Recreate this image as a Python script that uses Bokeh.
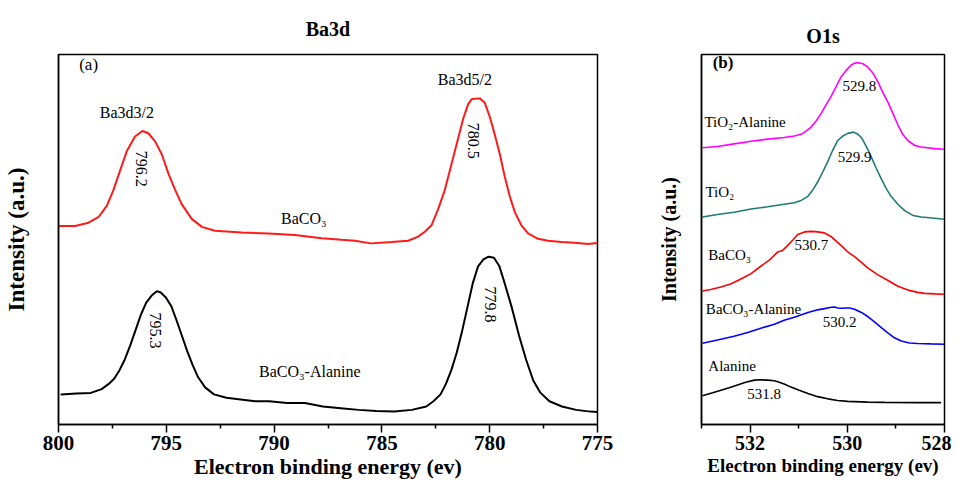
import math
from bokeh.plotting import figure
from bokeh.models import FixedTicker, Range1d
from bokeh.layouts import row
from bokeh.core.properties import value
from bokeh.embed import file_html
from bokeh.resources import INLINE

FONT = "Liberation Serif"

# ---------------- Panel (a): Ba3d (binding energy in eV, intensity in a.u.) ----------------
ba_energy_baco3 = [800.0, 799.23, 798.61, 798.15, 797.76, 797.45, 797.14, 796.83, 796.45, 796.11,
                   795.83, 795.52, 795.21, 794.90, 794.59, 794.28, 793.82, 793.35, 792.74, 791.50,
                   790.27, 789.03, 787.79, 786.87, 786.25, 785.51, 784.55, 783.78, 783.32, 783.01,
                   782.70, 782.39, 782.08, 781.77, 781.46, 781.23, 781.00, 780.84, 780.69, 780.46,
                   780.23, 779.99, 779.76, 779.53, 779.30, 779.07, 778.83, 778.53, 778.22, 777.76,
                   777.29, 776.67, 776.06, 775.44, 775.0]
ba_int_baco3 = [216.0, 216.0, 219.3, 225.0, 236.7, 253.3, 273.3, 293.3, 308.3, 314.0,
                311.7, 303.3, 290.0, 270.0, 253.3, 238.3, 223.3, 215.0, 211.0, 209.3,
                208.3, 206.7, 203.3, 201.7, 200.7, 198.0, 199.3, 200.7, 205.0, 210.0,
                216.7, 233.3, 253.3, 280.0, 306.7, 326.7, 341.7, 346.7, 347.3, 347.7,
                343.3, 328.3, 310.0, 290.0, 266.7, 246.7, 230.0, 216.7, 208.3, 202.7,
                200.7, 199.3, 198.7, 197.3, 198.3]

ba_energy_ala = [799.90, 799.16, 798.50, 798.00, 797.67, 797.42, 797.17, 796.93, 796.68, 796.43,
                 796.18, 795.93, 795.69, 795.44, 795.27, 795.02, 794.77, 794.53, 794.28, 794.03,
                 793.78, 793.53, 793.20, 792.79, 792.21, 791.55, 790.88, 790.22, 789.40, 788.57,
                 787.74, 786.91, 786.08, 785.26, 784.43, 783.61, 782.94, 782.61, 782.28, 782.03,
                 781.78, 781.53, 781.29, 781.04, 780.79, 780.54, 780.29, 780.05, 779.80, 779.55,
                 779.30, 778.97, 778.64, 778.31, 777.98, 777.65, 777.23, 776.65, 775.99, 775.33,
                 775.0]
ba_int_ala = [42.1, 42.9, 43.6, 47.5, 52.9, 58.2, 67.1, 77.9, 92.1, 108.2,
              124.3, 136.8, 143.9, 148.6, 147.5, 142.1, 133.2, 118.9, 102.9, 86.8,
              72.5, 60.0, 49.3, 42.1, 38.6, 36.8, 35.0, 35.0, 33.2, 33.2,
              29.6, 27.9, 26.1, 25.0, 24.3, 26.1, 29.6, 35.0, 42.1, 52.9,
              67.1, 85.0, 106.4, 131.4, 156.4, 174.3, 181.4, 184.3, 183.2, 174.3,
              156.4, 131.4, 102.9, 77.9, 56.4, 43.9, 35.0, 29.6, 26.1, 24.3,
              24.0]

ba_ticks = [800, 795, 790, 785, 780, 775]
ba_minor = [797.5, 792.5, 787.5, 782.5, 777.5]

# ---------------- Panel (b): O1s ----------------
o_energy_tiala = [532.98, 532.67, 532.33, 531.98, 531.64, 531.30, 531.09, 530.95, 530.85, 530.75,
                  530.64, 530.54, 530.44, 530.33, 530.23, 530.13, 530.02, 529.92, 529.84, 529.77,
                  529.68, 529.58, 529.47, 529.37, 529.27, 529.16, 529.06, 528.96, 528.86, 528.75,
                  528.61, 528.48, 528.20, 528.0]
o_int_tiala = [306.0, 307.3, 310.0, 312.7, 315.0, 316.7, 318.3, 320.0, 323.3, 327.3,
               334.0, 341.7, 350.7, 360.0, 370.0, 380.0, 387.3, 392.7, 394.7, 395.0,
               394.0, 390.7, 384.0, 375.0, 364.0, 353.3, 341.7, 330.0, 320.0, 313.3,
               308.3, 306.7, 305.0, 304.3]

o_energy_tio2 = [532.98, 532.67, 532.33, 531.98, 531.64, 531.30, 531.09, 530.95, 530.81, 530.71,
                 530.61, 530.51, 530.40, 530.30, 530.20, 530.09, 529.99, 529.87, 529.80, 529.71,
                 529.61, 529.51, 529.41, 529.30, 529.20, 529.10, 528.96, 528.82, 528.65, 528.48,
                 528.20, 528.0]
o_int_tio2 = [233.3, 236.0, 238.3, 241.7, 244.0, 246.7, 248.3, 250.7, 255.0, 261.7,
              270.0, 280.0, 291.7, 303.3, 313.3, 318.3, 321.0, 322.3, 320.7, 316.7,
              307.3, 296.7, 285.0, 273.3, 263.3, 255.0, 246.7, 240.0, 235.0, 233.3,
              232.0, 231.0]

o_energy_baco3 = [532.98, 532.81, 532.60, 532.39, 532.19, 531.98, 531.78, 531.60, 531.43, 531.33,
                  531.23, 531.12, 531.02, 530.88, 530.75, 530.61, 530.47, 530.33, 530.20, 530.09,
                  529.99, 529.85, 529.71, 529.58, 529.37, 529.16, 528.96, 528.75, 528.55, 528.41,
                  528.20, 528.0]
o_int_baco3 = [155.7, 157.3, 160.0, 163.3, 168.3, 174.0, 181.7, 188.3, 196.7, 198.3,
               203.3, 209.3, 215.0, 217.7, 218.3, 217.7, 216.7, 212.7, 206.7, 201.7,
               196.7, 191.7, 185.7, 180.0, 172.7, 166.7, 160.7, 156.7, 154.3, 153.3,
               152.7, 152.3]

o_energy_baala = [532.98, 532.67, 532.33, 532.05, 531.78, 531.50, 531.30, 531.09, 530.81, 530.61,
                  530.47, 530.33, 530.26, 530.20, 530.13, 530.02, 529.95, 529.85, 529.71, 529.58,
                  529.44, 529.30, 529.16, 529.03, 528.89, 528.72, 528.55, 528.27, 528.0]
o_int_baala = [101.0, 104.3, 108.3, 112.3, 116.7, 121.0, 125.0, 128.3, 133.3, 136.0,
               137.3, 138.7, 139.0, 138.0, 137.7, 138.0, 138.0, 136.7, 133.3, 129.0,
               123.3, 117.3, 111.7, 106.7, 103.3, 101.3, 100.7, 100.3, 100.0]

o_energy_ala = [532.98, 532.77, 532.60, 532.43, 532.26, 532.09, 531.91, 531.78, 531.64, 531.50,
                531.43, 531.30, 531.16, 530.99, 530.81, 530.61, 530.40, 530.20, 529.99, 529.58,
                529.23, 528.55, 528.07]
o_int_ala = [46.0, 49.0, 51.7, 54.3, 57.3, 60.0, 62.3, 62.7, 62.3, 61.7,
             60.7, 58.3, 55.0, 51.7, 48.3, 45.0, 42.7, 41.0, 40.0, 39.3,
             39.0, 38.7, 38.7]

o_ticks = [532, 530, 528]
o_minor = [533, 531, 529]


def style(p, tick_size, label_size, ylabel_size, tick_standoff, label_standoff, ylabel_standoff):
    p.grid.visible = False
    p.outline_line_color = "black"
    p.outline_line_width = 1.5
    p.background_fill_color = "white"
    p.border_fill_color = "white"
    ax = p.xaxis[0]
    ax.axis_line_width = 1.5
    ax.major_tick_line_width = 1.5
    ax.minor_tick_line_width = 1.5
    ax.major_tick_out = 8
    ax.major_tick_in = 0
    ax.minor_tick_out = 4
    ax.minor_tick_in = 0
    ax.major_label_text_font = FONT
    ax.major_label_text_font_style = "bold"
    ax.major_label_text_font_size = tick_size
    ax.major_label_text_color = "black"
    ax.major_label_standoff = tick_standoff
    ax.axis_label_text_font = FONT
    ax.axis_label_text_font_style = "bold"
    ax.axis_label_text_font_size = label_size
    ax.axis_label_text_color = "black"
    ax.axis_label_standoff = label_standoff
    ya = p.yaxis[0]
    ya.ticker = FixedTicker(ticks=[])
    ya.axis_line_width = 1.5
    ya.major_tick_out = 0
    ya.minor_tick_out = 0
    ya.major_label_standoff = 0
    ya.axis_label_text_font = FONT
    ya.axis_label_text_font_style = "bold"
    ya.axis_label_text_font_size = ylabel_size
    ya.axis_label_text_color = "black"
    ya.axis_label_standoff = ylabel_standoff
    p.title.text_font = FONT
    p.title.text_font_style = "bold"
    p.title.text_font_size = "20px"
    p.title.align = "center"
    p.title.text_color = "black"


tf = value(FONT)

# ---- figure a ----  frame: page x 63..605, y 62..444
p1 = figure(width=645, height=481, output_backend="svg", toolbar_location=None,
            x_range=Range1d(800, 775), y_range=Range1d(11, 393),
            title="Ba3d", x_axis_label="Electron binding energy (ev)",
            y_axis_label="Intensity (a.u.)",
            min_border_left=55, min_border_right=48, min_border_top=54, min_border_bottom=45)
p1.xaxis.ticker = FixedTicker(ticks=ba_ticks, minor_ticks=ba_minor)
style(p1, "21px", "22px", "23px", 3, 1, 30)
p1.title.standoff = 29

p1.line(ba_energy_baco3, ba_int_baco3, line_color="#ff1a1a", line_width=2)
p1.line(ba_energy_ala, ba_int_ala, line_color="black", line_width=2)

p1.text(x=[799.04], y=[383], text=["(a)"], text_font=tf, text_font_size="17px",
        text_align="left", text_baseline="middle")
p1.text(x=[796.83, 781.15], y=[333.3, 366.7], text=["Ba3d3/2", "Ba3d5/2"], text_font=tf,
        text_font_size="16px", text_align="center", text_baseline="middle")
p1.text(x=[796.17, 780.77, 795.48, 779.97], y=[275, 304, 108, 135],
        text=["796.2", "780.5", "795.3", "779.8"], angle=-math.pi / 2,
        text_font=tf, text_font_size="16px", text_align="center", text_baseline="middle")
p1.text(x=[789.68, 790.70], y=[224, 66], text=["BaCO₃", "BaCO₃-Alanine"], text_font=tf,
        text_font_size="16px", text_align="left", text_baseline="middle")

# ---- figure b ----  frame: page x 709..952, y 40..443
p2 = figure(width=306, height=481, output_backend="svg", toolbar_location=None,
            x_range=Range1d(533, 528), y_range=Range1d(15.8, 403.7),
            title="O1s", x_axis_label="Electron binding energy (ev)",
            y_axis_label="Intensity (a.u.)",
            min_border_left=56, min_border_right=7, min_border_top=32, min_border_bottom=46)
p2.xaxis.ticker = FixedTicker(ticks=o_ticks, minor_ticks=o_minor)
style(p2, "20px", "19px", "20px", 3, 2, 22)
p2.title.standoff = 16

p2.line(o_energy_tiala, o_int_tiala, line_color="#ff00ff", line_width=1.6)
p2.line(o_energy_tio2, o_int_tio2, line_color="#1e7b76", line_width=1.6)
p2.line(o_energy_baco3, o_int_baco3, line_color="#ff0000", line_width=1.6)
p2.line(o_energy_baala, o_int_baala, line_color="#0000ff", line_width=1.6)
p2.line(o_energy_ala, o_int_ala, line_color="black", line_width=1.6)

p2.text(x=[532.77], y=[395.5], text=["(b)"], text_font=tf, text_font_size="17px",
        text_font_style="bold", text_align="left", text_baseline="middle")
p2.text(x=[532.94, 532.92, 532.86, 532.91, 532.86], y=[333.3, 260, 193.3, 136.7, 76.7],
        text=["TiO₂-Alanine", "TiO₂", "BaCO₃", "BaCO₃-Alanine", "Alanine"], text_font=tf,
        text_font_size="15px", text_align="left", text_baseline="middle")
p2.text(x=[529.75, 529.85, 530.74, 530.16, 531.71], y=[370.7, 296, 204, 123.3, 47.3],
        text=["529.8", "529.9", "530.7", "530.2", "531.8"], text_font=tf,
        text_font_size="15px", text_align="center", text_baseline="middle")

layout = row(p1, p2)
open("out.html", "w").write(file_html(layout, INLINE))
